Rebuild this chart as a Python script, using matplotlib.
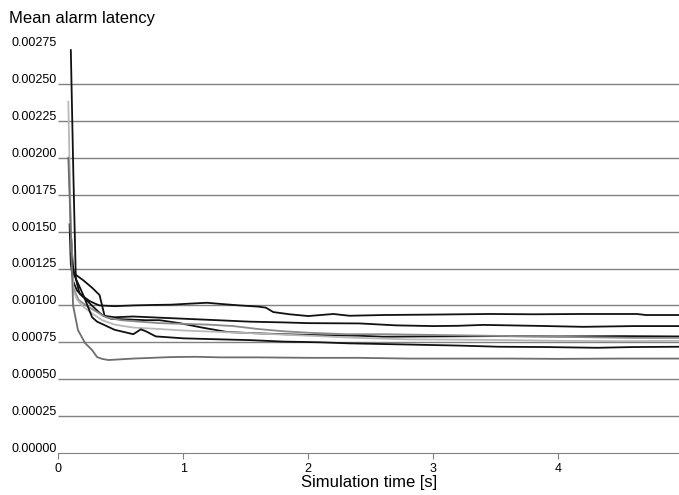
import matplotlib
matplotlib.use("Agg")
import matplotlib.pyplot as plt
from matplotlib.transforms import ScaledTranslation

plt.rcParams['font.family'] = ['Liberation Sans', 'DejaVu Sans']

# run 1 (black, top)
t1 = [0.09, 0.10, 0.12, 0.15, 0.20, 0.25, 0.30, 0.33, 0.45, 0.60, 0.75, 0.90, 1.05, 1.19, 1.30,
      1.45, 1.60, 1.66, 1.72, 1.85, 2.00, 2.20, 2.33, 2.60, 3.00, 3.45, 3.80, 4.20, 4.63, 4.70, 4.97]
lat1 = [0.00155, 0.00128, 0.00116, 0.00110, 0.00106, 0.00103, 0.00101, 0.00100, 0.000995, 0.001000,
        0.001003, 0.001005, 0.001012, 0.001018, 0.001010, 0.001000, 0.000992, 0.000985, 0.000955,
        0.000940, 0.000928, 0.000942, 0.000930, 0.000935, 0.000938, 0.000942, 0.000940, 0.000942,
        0.000942, 0.000935, 0.000935]

# run 2 (black)
t2 = [0.10, 0.12, 0.14, 0.17, 0.22, 0.28, 0.33, 0.36, 0.45, 0.60, 0.81, 1.00, 1.27, 1.53, 1.80,
      2.00, 2.41, 2.70, 3.00, 3.20, 3.40, 3.80, 4.20, 4.60, 4.97]
lat2 = [0.00273, 0.00190, 0.00118, 0.00108, 0.00104, 0.00099, 0.00095, 0.00093, 0.00092, 0.000925,
        0.000917, 0.000910, 0.000900, 0.000890, 0.000885, 0.000880, 0.000878, 0.000865, 0.000860,
        0.000862, 0.000868, 0.000862, 0.000855, 0.000860, 0.000860]

# run 3 (black)
t3 = [0.10, 0.12, 0.20, 0.27, 0.33, 0.37, 0.42, 0.55, 0.70, 0.81, 0.97, 1.15, 1.35, 1.53, 1.80,
      2.10, 2.40, 2.60, 3.00, 3.50, 4.00, 4.50, 4.97]
lat3 = [0.00150, 0.00122, 0.00117, 0.00112, 0.00107, 0.00093, 0.00091, 0.000905, 0.00090, 0.00090,
        0.00088, 0.00085, 0.00082, 0.000813, 0.000805, 0.000798, 0.000795, 0.000788, 0.00079,
        0.000792, 0.00079, 0.000792, 0.00079]

# run 4 (grey)
t4 = [0.085, 0.10, 0.12, 0.16, 0.22, 0.30, 0.38, 0.50, 0.65, 0.81, 1.00, 1.20, 1.40, 1.60, 1.80,
      2.00, 2.30, 2.60, 3.00, 3.40, 3.80, 4.20, 4.60, 4.97]
lat4 = [0.00200, 0.00150, 0.00112, 0.00104, 0.00100, 0.00096, 0.00092, 0.00090, 0.00089, 0.00088,
        0.000875, 0.00087, 0.00086, 0.00084, 0.000825, 0.000815, 0.000805, 0.000805, 0.00080,
        0.000795, 0.00079, 0.000785, 0.00078, 0.00078]

# run 5 (light grey)
t5 = [0.08, 0.10, 0.12, 0.15, 0.20, 0.28, 0.35, 0.45, 0.60, 0.81, 1.00, 1.30, 1.60, 2.00, 2.40,
      2.80, 3.20, 3.60, 4.00, 4.50, 4.97]
lat5 = [0.00238, 0.00150, 0.00110, 0.00104, 0.00099, 0.00094, 0.00090, 0.00087, 0.00085, 0.00084,
        0.00083, 0.00082, 0.00081, 0.000795, 0.00078, 0.00077, 0.000768, 0.000765, 0.00076,
        0.000758, 0.00076]

# run 6 (black, lowest)
t6 = [0.10, 0.13, 0.20, 0.27, 0.31, 0.45, 0.60, 0.66, 0.70, 0.78, 0.85, 1.00, 1.30, 1.53, 1.80,
      2.10, 2.33, 2.80, 3.20, 3.53, 3.90, 4.31, 4.60, 4.97]
lat6 = [0.00135, 0.00120, 0.00107, 0.00092, 0.00089, 0.000835, 0.000805, 0.000838, 0.000825,
        0.00079, 0.000786, 0.000777, 0.00077, 0.000765, 0.000755, 0.000750, 0.000743, 0.000735,
        0.000728, 0.00072, 0.000718, 0.000713, 0.000718, 0.00072]

# run 7 (dark grey)
t7 = [0.08, 0.10, 0.118, 0.157, 0.214, 0.27, 0.31, 0.35, 0.40, 0.50, 0.60, 0.75, 0.90, 1.10, 1.30,
      1.60, 2.00, 2.40, 2.80, 3.20, 3.60, 4.00, 4.50, 4.97]
lat7 = [0.00200, 0.00150, 0.00100, 0.000833, 0.000745, 0.000698, 0.00065, 0.000638, 0.000630,
        0.000635, 0.000640, 0.000645, 0.00065, 0.000652, 0.000648, 0.000648, 0.000645, 0.000645,
        0.00064, 0.00064, 0.00064, 0.000638, 0.00064, 0.00064]

runs = [(t1, lat1, "#111111"), (t2, lat2, "#111111"), (t3, lat3, "#111111"),
        (t4, lat4, "#8a8a8a"), (t5, lat5, "#b8b8b8"), (t6, lat6, "#111111"),
        (t7, lat7, "#6e6e6e")]

yticks = [i * 0.00025 for i in range(12)]
xticks = [0, 1, 2, 3, 4]

fig = plt.figure(figsize=(6.79, 4.95), dpi=100)
ax = fig.add_axes([0.0859, 0.0848, 0.9141, 0.820])

# horizontal grid, no line on the top edge
ax.hlines(yticks[1:-1], 0, 4.966, color="#808080", lw=1.0, zorder=1)

for t, lat, c in runs:
    ax.plot(t, lat, color=c, lw=1.3, zorder=2)

ax.set_xlim(0, 4.966)
ax.set_ylim(0, 0.00275)
ax.set_xticks(xticks)
ax.set_yticks(yticks)
ax.set_yticklabels(["%.5f" % v for v in yticks])
for s in ["top", "right", "left"]:
    ax.spines[s].set_visible(False)
ax.spines["bottom"].set_color("#808080")
ax.tick_params(axis="y", length=0, pad=1, labelsize=9)
ax.tick_params(axis="x", length=4, color="#808080", pad=3, labelsize=9)

# y labels sit a little above their grid lines
shift = ScaledTranslation(0, 4 / 72, fig.dpi_scale_trans)
for lab in ax.get_yticklabels():
    lab.set_transform(lab.get_transform() + shift)

ax.set_xlabel("Simulation time [s]", fontsize=12, labelpad=0)
fig.text(0.013, 0.962, "Mean alarm latency", fontsize=12, va="center", ha="left")

fig.savefig("out.png", dpi=100)
